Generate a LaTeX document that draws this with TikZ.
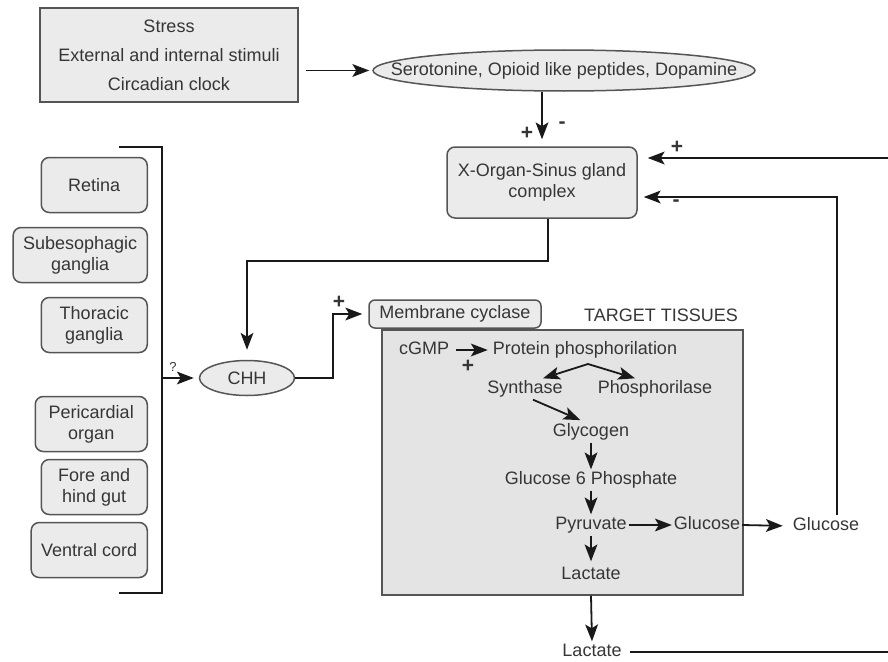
\documentclass[tikz,border=0pt]{standalone}
\usepackage{fontspec}
\setmainfont{Liberation Sans}
\usetikzlibrary{arrows.meta,positioning,shapes.geometric}
\definecolor{boxfill}{HTML}{EBEBEB}
\definecolor{tissuefill}{HTML}{E4E4E4}
\definecolor{edgegray}{HTML}{555555}
\definecolor{txtgray}{HTML}{363636}
\tikzset{pointer/.tip={Stealth[length=17pt,width=13pt,inset=4pt,line width=0pt]}}

\begin{document}
\begin{tikzpicture}[
    x=1pt, y=-1pt,
    font=\fontsize{18}{21}\selectfont, text=txtgray,
    box/.style={draw=edgegray, line width=1.5pt, fill=boxfill, align=center},
    organ/.style={box, rounded corners=8pt, minimum width=106pt, minimum height=55pt, inner xsep=10pt, anchor=east},
    oval/.style={draw=edgegray, line width=1.5pt, fill=boxfill, ellipse, inner sep=0pt},
    chem/.style={inner sep=2pt, text height=13pt, text depth=4pt},
    sign/.style={inner sep=1pt, font=\fontsize{21}{23}\bfseries},
    wire/.style={draw=black!90, line width=1.8pt},
    link/.style={wire, -pointer}
  ]
    \useasboundingbox (0,0) rectangle (888,661);

    % sources and central control
    \node[box, minimum width=258pt, minimum height=94pt] (stress) at (169,55)
      {Stress\\[8pt]External and internal stimuli\\[8pt]Circadian clock};
    \node[oval, minimum width=382pt, minimum height=41pt,
      label={[name=serotext]center:{Serotonine, Opioid like peptides, Dopamine}}] (sero) at (564,70.5) {};
    \node[box, rounded corners=8pt, minimum width=190pt, minimum height=71pt] (xorgan) at (542,182.5)
      {X-Organ-Sinus gland\\complex};

    % tissues producing CHH
    \node[organ] (retina) at (148,185) {Retina};
    \node[organ] (subeso) at (148,255) {Subesophagic\\ganglia};
    \node[organ] (thorac) at (148,325) {Thoracic\\ganglia};
    \node[organ, minimum width=112pt] (pericard) at (148,424) {Pericardial\\organ};
    \node[organ] (gut) at (148,487) {Fore and\\hind gut};
    \node[organ, minimum width=112pt] (ventral) at (148,550) {Ventral cord};
    \draw[wire] (119,147) -- (162,147) -- (162,593) -- (119,593);
    \coordinate (brk) at (162,378);

    \node[oval, minimum width=95pt, minimum height=35pt] (chh) at (247,378) {CHH};
    \node[box, rounded corners=6pt, minimum width=172pt, minimum height=28pt, inner sep=2pt] (mc) at (455,314)
      {Membrane cyclase};

    % target tissues
    \node[box, fill=tissuefill, minimum width=361pt, minimum height=265pt] (tissue) at (562.5,462.5) {};
    \node (tlabel) at (661,315) {TARGET TISSUES};
    \node[chem] (cgmp) at (424,350) {cGMP};
    \node[chem] (prot) at (585,350) {Protein phosphorilation};
    \node[chem] (synth) at (525,389) {Synthase};
    \node[chem] (phos) at (655,389) {Phosphorilase};
    \node[chem] (glyc) at (591,432) {Glycogen};
    \node[chem] (g6p) at (591,480) {Glucose 6 Phosphate};
    \node[chem] (pyr) at (591,525) {Pyruvate};
    \node[chem] (glin) at (707,525) {Glucose};
    \node[chem] (lacin) at (591,575) {Lactate};
    \node[chem] (glout) at (826,526) {Glucose};
    \node[chem] (lacout) at (592,652) {Lactate};
    \coordinate (peak) at (588,364);

    % signs
    \node[sign] (pluss) at (527,133) {+};
    \node[sign] (minuss) at (562,125) {-};
    \node[sign] (plusfb) at (677,147) {+};
    \node[sign] (minusfb) at (676,203) {-};
    \node[sign] (plusmc) at (339,302) {+};
    \node[sign] (pluscg) at (468,366) {+};
    \node[sign, font=\fontsize{13}{15}\selectfont] (query) at (173,367) {?};

    % connections
    \draw[link, shorten <=7pt, shorten >=3pt] (stress.east |- sero.west) -- (sero.west);
    \draw[link, shorten >=7pt] (xorgan.north |- sero.south) -- (xorgan.north);
    \coordinate (plusin) at (888,158);
    \draw[link, shorten >=10pt] (plusin) -- (xorgan.east |- plusin);
    \coordinate (minturn) at (837,197);
    \draw[link, shorten >=6pt] (glout.north -| minturn) -- (minturn) -- (xorgan.east |- minturn);
    \coordinate (turn) at (0,261);
    \draw[link, shorten >=10pt] ([xshift=6pt]xorgan.south) |- (chh.north |- turn) -- (chh.north);
    \draw[link, shorten >=5pt] (brk) -- (chh.west);
    \draw[link, shorten >=6pt] (chh.east) -- ++(38,0) |- (mc.west);
    \draw[link, shorten <=5pt, shorten >=3pt] (cgmp.east) -- (prot.west);
    \draw[wire, pointer-pointer] ([xshift=18pt]synth.north) -- (peak) -- ([xshift=-20pt]phos.north);
    \draw[link, shorten >=3pt] ([xshift=8pt]synth.south) -- ([xshift=-8pt]glyc.north);
    \draw[link] (glyc) -- (g6p);
    \draw[link] (g6p) -- (pyr);
    \draw[link] (pyr) -- (glin);
    \draw[link, shorten >=3pt] (pyr) -- (lacin);
    \draw[link, shorten >=8pt] (glin.east) -- (glout.west);
    \draw[link] (lacin.south |- tissue.south) -- (lacout.north);
    \coordinate (lacend) at (888,652);
    \draw[wire, shorten <=6pt] (lacout.east) -- (lacend);
  \end{tikzpicture}
\end{document}
